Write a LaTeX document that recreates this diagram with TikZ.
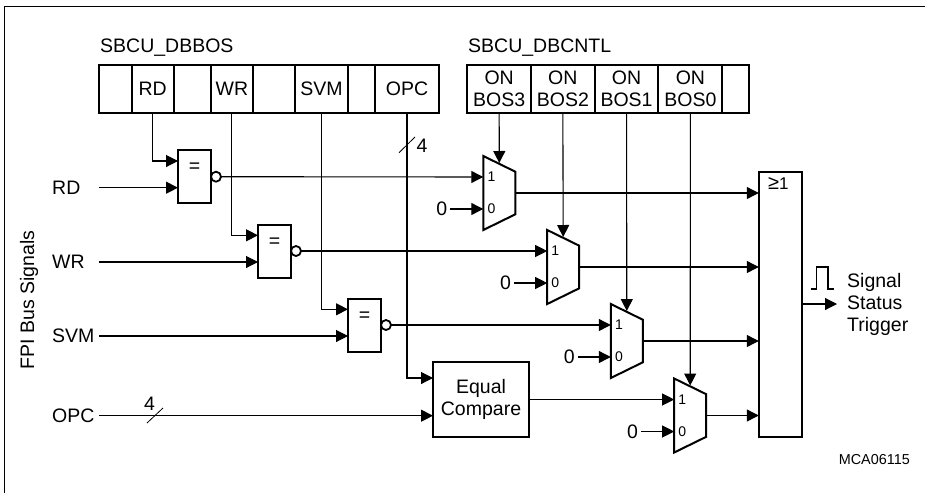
\documentclass[tikz,border=0pt]{standalone}
\usepackage{fontspec}
\setmainfont{Liberation Sans}
\usetikzlibrary{arrows.meta,positioning}
\begin{document}
\begin{tikzpicture}[
  x=1pt,y=-1pt,
  txt/.style={font=\fontsize{19.5}{22}\selectfont,inner sep=0pt},
  cell/.style={draw,line width=2pt,outer sep=0pt,minimum height=48pt,inner sep=0pt,align=center,
    font=\fontsize{19.5}{22}\selectfont},
  sig/.style={txt,text width=47pt,align=left},
  gate/.style={draw,line width=2pt,outer sep=0pt,minimum width=33pt,minimum height=53pt,inner sep=0pt,
    label={[txt,yshift=8.5pt]center:=}},
  bub/.style={draw,circle,line width=1.8pt,outer sep=0pt,minimum size=10pt,inner sep=0pt,anchor=west},
  box/.style={draw,line width=2pt,outer sep=0pt,inner sep=0pt,align=center,txt},
  muxn/.style={minimum width=32pt,minimum height=74pt,inner sep=0pt,outer sep=0pt},
  a/.style={-{Triangle[length=12pt,width=12pt]},line width=1.1pt},
  w/.style={line width=0.8pt}
]
  \useasboundingbox (0,0) rectangle (925,493);
  \draw[line width=1pt] (4.5,493) -- (4.5,6) -- (925,6);

  % register bits
  \node[txt,anchor=west] (dbbos) at (100,48) {SBCU\_DBBOS};
  \node[cell,minimum width=32.7pt,anchor=west] (b0) at (99,89) {};
  \node[cell,minimum width=42pt,right=0pt of b0] (brd) {RD};
  \node[cell,minimum width=37pt,right=0pt of brd] (b1) {};
  \node[cell,minimum width=42.3pt,right=0pt of b1] (bwr) {WR};
  \node[cell,minimum width=42pt,right=0pt of bwr] (b2) {};
  \node[cell,minimum width=53pt,right=0pt of b2] (bsvm) {SVM};
  \node[cell,minimum width=27pt,right=0pt of bsvm] (b3) {};
  \node[cell,minimum width=64pt,right=0pt of b3] (bopc) {OPC};

  \node[txt,anchor=west] (dbcntl) at (468,48) {SBCU\_DBCNTL};
  \node[cell,minimum width=63.7pt,anchor=west] (on3) at (467.3,89) {ON\\BOS3};
  \node[cell,minimum width=63.7pt,right=0pt of on3] (on2) {ON\\BOS2};
  \node[cell,minimum width=63.7pt,right=0pt of on2] (on1) {ON\\BOS1};
  \node[cell,minimum width=64pt,right=0pt of on1] (on0) {ON\\BOS0};
  \node[cell,minimum width=26.7pt,right=0pt of on0] (b4) {};

  % bus signals
  \node[txt,rotate=90] (fpi) at (29,300) {FPI Bus Signals};
  \node[sig,anchor=west] (rd) at (52,187.7) {RD};
  \node[sig,anchor=west] (wr) at (52,262) {WR};
  \node[sig,anchor=west] (svm) at (52,336) {SVM};
  \node[sig,anchor=west] (opc) at (52,415.7) {OPC};

  % compare gates
  \foreach \g/\x/\y in {eqrd/194.5/176.7,eqwr/274.5/251,eqsvm/364.5/325}
  {
    \node[gate] (\g) at (\x,\y) {};
    \node[bub] (\g-n) at (\g.east) {};
    \coordinate (\g-a) at ([yshift=15.7pt]\g.west);
    \coordinate (\g-b) at ([yshift=-11pt]\g.west);
  }
  \node[box,minimum width=96pt,minimum height=75pt] (cmp) at (481,399.5) {Equal\\Compare};
  \coordinate (cmp-a) at ([yshift=21.5pt]cmp.west);
  \coordinate (cmp-b) at ([yshift=-16.2pt]cmp.west);

  % multiplexers
  \foreach \m/\x/\y in {mrd/499.3/193,mwr/563.2/267,msvm/626.8/341,mopc/690.2/415.5}
  {
    \node[muxn] (\m) at (\x,\y) {};
    \draw[line width=2pt] (\m.north west) -- ([yshift=-15.7pt]\m.north east)
      -- ([yshift=15.7pt]\m.south east) -- (\m.south west) -- cycle;
    \coordinate (\m-one) at ([yshift=16pt]\m.west);
    \coordinate (\m-zero) at ([yshift=-16pt]\m.west);
    \coordinate (\m-sel) at ([yshift=-7pt]\m.north);
    \node[font=\fontsize{14}{16}\selectfont,inner sep=0pt,right=4pt of \m-one] (\m-1) {1};
    \node[font=\fontsize{14}{16}\selectfont,inner sep=0pt,right=4pt of \m-zero] (\m-0) {0};
    \node[txt,left=36pt of \m-zero] (\m-c) {0};
    \draw[a] (\m-c.east) ++(3pt,0) -- (\m-zero);
  }

  \node[draw,line width=2pt,outer sep=0pt,minimum width=43pt,minimum height=265.3pt,inner sep=0pt] (orb) at (780.3,304.3) {};
  \node[font=\fontsize{17}{19}\selectfont,inner sep=0pt,below=6pt of orb.north,xshift=-2pt] (orlbl) {{\fontsize{20}{20}\selectfont ≥}1};
  \node[txt,align=left,anchor=west] (trig) at (847,304) {Signal\\Status\\Trigger};
  \coordinate (trig-in) at (837,304);
  \node[font=\fontsize{14.4}{16}\selectfont,inner sep=0pt,anchor=east] (mca) at (910,460) {MCA06115};

  % connections
  \draw[a] (brd.south) |- (eqrd-a);
  \draw[a] (bwr.south) |- (eqwr-a);
  \draw[a] (bsvm.south) |- (eqsvm-a);
  \draw[a] (bopc.south) |- (cmp-a);
  \foreach \x/\y in {rd/eqrd-b,wr/eqwr-b,svm/eqsvm-b,opc/cmp-b}
    {\draw[a] (\x.east) -- (\y);}
  \foreach \x/\y in {eqrd-n/mrd-one,eqwr-n/mwr-one,eqsvm-n/msvm-one,cmp/mopc-one}
    {\draw[a] (\x.east) -- (\y);}
  \foreach \x/\y in {on3/mrd,on2/mwr,on1/msvm,on0/mopc}
    {\draw[a] (\x.south) -- (\y-sel);}
  \foreach \y in {mrd,mwr,msvm,mopc}
    {\draw[a] (\y.east) -- (orb.west |- \y.east);}
  \draw[a] (orb.east |- trig-in) -- (trig-in);

  % pulse and bus ticks
  \draw[line width=1.4pt] (810.7,289) -- (816.7,289) -- (816.7,267) -- (828,267) -- (828,289) -- (834,289);
  \draw[w] (147,423) -- (163,408);
  \node[txt] (n4a) at (149.5,404) {4};
  \draw[w] (399,152.7) -- (415,137);
  \node[txt] (n4b) at (422,146) {4};
\end{tikzpicture}
\end{document}
